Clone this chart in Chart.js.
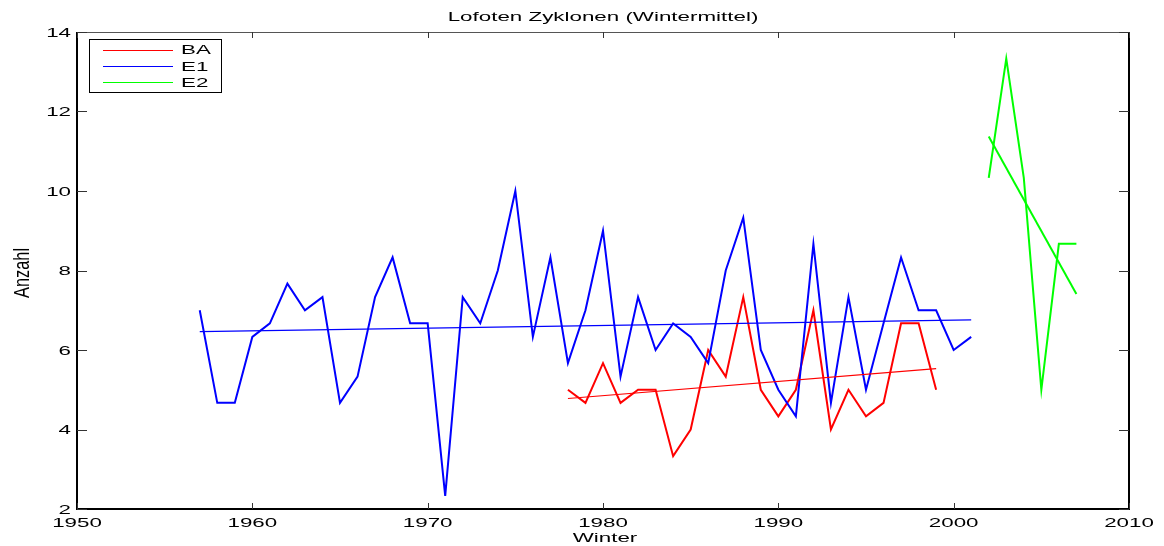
<!DOCTYPE html>
<html>
<head>
<meta charset="utf-8">
<title>Lofoten Zyklonen</title>
<script src="https://cdn.jsdelivr.net/npm/chart.js@4.4.1/dist/chart.umd.min.js"></script>
<style>
  html, body { margin: 0; padding: 0; background: #fff; }
  #wrap { width: 1164px; height: 546px; }
</style>
</head>
<body>
<div id="wrap"><canvas id="lofoten-chart" width="1164" height="546"></canvas></div>
<script>
// Winter means
const baYears = [1978, 1979, 1980, 1981, 1982, 1983, 1984, 1985, 1986, 1987, 1988,
  1989, 1990, 1991, 1992, 1993, 1994, 1995, 1996, 1997, 1998, 1999];
const baValues = [5, 4.67, 5.67, 4.67, 5, 5, 3.33, 4, 6, 5.33, 7.33,
  5, 4.33, 5, 7, 4, 5, 4.33, 4.67, 6.67, 6.67, 5];

const e1Years = [1957, 1958, 1959, 1960, 1961, 1962, 1963, 1964, 1965, 1966, 1967, 1968,
  1969, 1970, 1971, 1972, 1973, 1974, 1975, 1976, 1977, 1978, 1979, 1980, 1981, 1982,
  1983, 1984, 1985, 1986, 1987, 1988, 1989, 1990, 1991, 1992, 1993, 1994, 1995, 1996,
  1997, 1998, 1999, 2000, 2001];
const e1Values = [7, 4.67, 4.67, 6.33, 6.67, 7.67, 7, 7.33, 4.67, 5.33, 7.33, 8.33,
  6.67, 6.67, 2.33, 7.33, 6.67, 8, 10, 6.33, 8.33, 5.67, 7, 9, 5.33, 7.33,
  6, 6.67, 6.33, 5.67, 8, 9.33, 6, 5, 4.33, 8.67, 4.67, 7.33, 5, 6.67,
  8.33, 7, 7, 6, 6.33];

const e2Years = [2002, 2003, 2004, 2005, 2006, 2007];
const e2Values = [10.33, 13.33, 10.33, 5, 8.67, 8.67];

// linear trend lines (end points)
const baTrendYears = [1978, 1999];
const baTrendValues = [4.78, 5.53];
const e1TrendYears = [1957, 2001];
const e1TrendValues = [6.46, 6.76];
const e2TrendYears = [2002, 2007];
const e2TrendValues = [11.37, 7.41];

const xTicks = [1950, 1960, 1970, 1980, 1990, 2000, 2010];
const yTicks = [2, 4, 6, 8, 10, 12, 14];

const seriesNames = ['BA', 'E1', 'E2'];
const seriesColors = ['#ff0000', '#0000ff', '#00ff00'];

const FONT = "13px 'Liberation Sans', Arial, sans-serif";
const SX = 1.72;

function toPoints(xs, ys) {
  return xs.map((x, i) => ({ x: x, y: ys[i] }));
}

function wideText(ctx, str, x, y, align) {
  ctx.save();
  ctx.translate(x, y);
  ctx.scale(SX, 1);
  ctx.textAlign = align;
  ctx.fillText(str, 0, 0);
  ctx.restore();
}

const matlabAxes = {
  id: 'matlabAxes',
  afterDraw(chart) {
    const ctx = chart.ctx;
    const area = chart.chartArea;
    const xs = chart.scales.x;
    const ys = chart.scales.y;
    ctx.save();

    // box
    ctx.strokeStyle = '#555';
    ctx.lineWidth = 1;
    ctx.beginPath();
    ctx.moveTo(area.left, area.top + 0.5);
    ctx.lineTo(area.right, area.top + 0.5);
    ctx.stroke();
    ctx.strokeStyle = '#000';
    ctx.lineWidth = 2;
    ctx.beginPath();
    ctx.moveTo(area.left, area.top);
    ctx.lineTo(area.left, area.bottom);
    ctx.lineTo(area.right, area.bottom);
    ctx.lineTo(area.right, area.top);
    ctx.stroke();

    // inward ticks
    ctx.strokeStyle = '#333';
    ctx.lineWidth = 1;
    ctx.beginPath();
    xs.ticks.forEach(t => {
      const px = Math.round(xs.getPixelForValue(t.value)) + 0.5;
      ctx.moveTo(px, area.bottom);
      ctx.lineTo(px, area.bottom - 6);
      ctx.moveTo(px, area.top);
      ctx.lineTo(px, area.top + 6);
    });
    ys.ticks.forEach(t => {
      const py = Math.round(ys.getPixelForValue(t.value)) + 0.5;
      ctx.moveTo(area.left, py);
      ctx.lineTo(area.left + 10, py);
      ctx.moveTo(area.right, py);
      ctx.lineTo(area.right - 10, py);
    });
    ctx.stroke();

    // tick labels
    ctx.fillStyle = '#000';
    ctx.font = FONT;
    ctx.textBaseline = 'alphabetic';
    xs.ticks.forEach(t => {
      wideText(ctx, String(t.value), xs.getPixelForValue(t.value), 527, 'center');
    });
    ys.ticks.forEach(t => {
      wideText(ctx, String(t.value), area.left - 6, ys.getPixelForValue(t.value) + 4.7, 'right');
    });

    // title and axis labels
    wideText(ctx, 'Lofoten Zyklonen (Wintermittel)', (area.left + area.right) / 2, 21, 'center');
    wideText(ctx, 'Winter', (area.left + area.right) / 2 + 2, 541.5, 'center');
    ctx.save();
    ctx.translate(23, 273);
    ctx.scale(SX, 1.26);
    ctx.rotate(-Math.PI / 2);
    ctx.textAlign = 'center';
    ctx.textBaseline = 'middle';
    ctx.fillText('Anzahl', 0, 0);
    ctx.restore();

    // legend
    ctx.fillStyle = '#fff';
    ctx.fillRect(89.5, 39.5, 132, 53);
    ctx.strokeStyle = '#000';
    ctx.lineWidth = 1;
    ctx.strokeRect(89.5, 39.5, 132, 53);
    seriesNames.forEach((name, i) => {
      const ly = 49.5 + i * 16.3;
      ctx.strokeStyle = seriesColors[i];
      ctx.beginPath();
      ctx.moveTo(103, Math.round(ly) + 0.5);
      ctx.lineTo(173, Math.round(ly) + 0.5);
      ctx.stroke();
      ctx.fillStyle = '#000';
      ctx.textBaseline = 'alphabetic';
      wideText(ctx, name, 181, ly + 4.8, 'left');
    });
    ctx.restore();
  }
};

function dataLine(label, pts, color, width, order) {
  return {
    label: label,
    data: pts,
    borderColor: color,
    backgroundColor: color,
    borderWidth: width,
    pointRadius: 0,
    tension: 0,
    fill: false,
    order: order
  };
}

const ctx = document.getElementById('lofoten-chart').getContext('2d');
new Chart(ctx, {
  type: 'line',
  data: {
    datasets: [
      dataLine('BA', toPoints(baYears, baValues), seriesColors[0], 2, 5),
      dataLine('E1', toPoints(e1Years, e1Values), seriesColors[1], 2, 4),
      dataLine('E2', toPoints(e2Years, e2Values), seriesColors[2], 2, 3),
      dataLine('BA trend', toPoints(baTrendYears, baTrendValues), seriesColors[0], 1.2, 2),
      dataLine('E1 trend', toPoints(e1TrendYears, e1TrendValues), seriesColors[1], 1.2, 1),
      dataLine('E2 trend', toPoints(e2TrendYears, e2TrendValues), seriesColors[2], 2, 0)
    ]
  },
  options: {
    responsive: false,
    animation: false,
    devicePixelRatio: 1,
    layout: { padding: { left: 77, right: 35, top: 32, bottom: 37 } },
    plugins: {
      legend: { display: false },
      title: { display: false },
      tooltip: { enabled: false }
    },
    scales: {
      x: {
        type: 'linear',
        min: 1950,
        max: 2010,
        afterBuildTicks: s => { s.ticks = xTicks.map(v => ({ value: v })); },
        afterFit: s => { s.height = 0; },
        ticks: { display: false },
        grid: { display: false },
        border: { display: false }
      },
      y: {
        type: 'linear',
        min: 2,
        max: 14,
        afterBuildTicks: s => { s.ticks = yTicks.map(v => ({ value: v })); },
        afterFit: s => { s.width = 0; },
        ticks: { display: false },
        grid: { display: false },
        border: { display: false }
      }
    }
  },
  plugins: [matlabAxes]
});
</script>
</body>
</html>
